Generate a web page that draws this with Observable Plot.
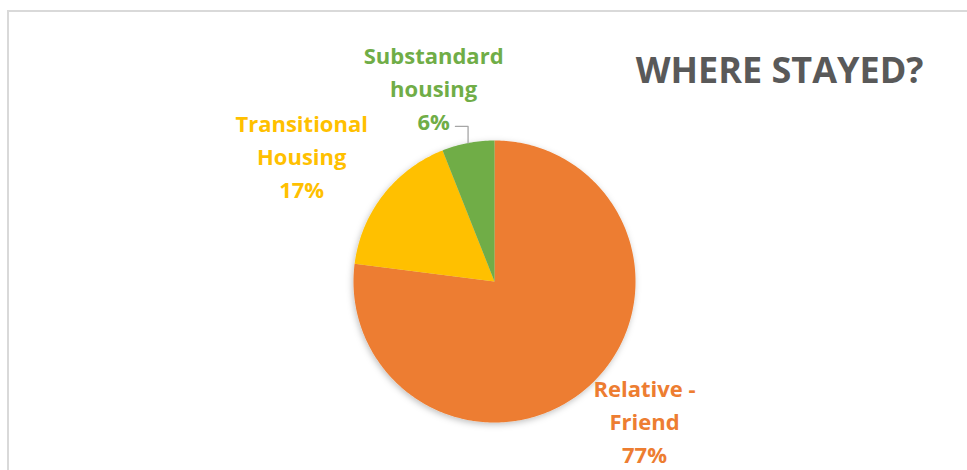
<!DOCTYPE html>
<html>
<head>
<meta charset="utf-8">
<script src="https://cdn.jsdelivr.net/npm/d3@7"></script>
<script src="https://cdn.jsdelivr.net/npm/@observablehq/plot@0.6"></script>
<style>
  html, body { margin: 0; padding: 0; background: #fff; }
  #wrap { position: relative; width: 967px; height: 470px; overflow: hidden; }
  #frame { position: absolute; left: 7px; top: 10px; width: 980px; height: 480px;
           border-left: 2px solid #d9d9d9; border-top: 2px solid #d9d9d9; box-sizing: border-box; }
  #chart { position: absolute; left: 0; top: 0; }
</style>
</head>
<body>
<div id="wrap"><div id="frame"></div><div id="chart"></div></div>
<script>
const title = "WHERE STAYED?";
const categories = ["Relative - Friend", "Transitional Housing", "Substandard housing"];
const labelLines = ["Relative -\nFriend", "Transitional\nHousing", "Substandard\nhousing"];
const values = [77, 17, 6];
const colors = ["#ED7D31", "#FFC000", "#70AD47"];

// layout for labels (angle in degrees clockwise from top, distance in radii)
const labelPlace = [[132.6, 1.445], [303.4, 1.638], [342.7, 1.452]];

const arcs = d3.pie().sort(null).value(d => d)(values);
const slices = [];
arcs.forEach((a, i) => {
  slices.push({cat: categories[i], x: 0, y: 0});
  const n = Math.max(8, Math.ceil((a.endAngle - a.startAngle) * 60));
  for (let k = 0; k <= n; k++) {
    const t = a.startAngle + (a.endAngle - a.startAngle) * k / n;
    slices.push({cat: categories[i], x: Math.sin(t), y: Math.cos(t)});
  }
  slices.push({cat: categories[i], x: 0, y: 0});
});

const labels = arcs.map((a, i) => {
  const ang = labelPlace[i][0] * Math.PI / 180, r = labelPlace[i][1];
  return {cat: categories[i], text: labelLines[i] + "\n" + values[i] + "%", x: r * Math.sin(ang), y: r * Math.cos(ang)};
});

// leader line for the small slice
const g = arcs[2];
const mid = (g.startAngle + g.endAngle) / 2;
const ex = Math.sin(mid), ey = Math.cos(mid);
const leader = [{x: ex, y: ey}, {x: ex, y: 1.1}, {x: -0.277, y: 1.1}];

const plot = Plot.plot({
  width: 967,
  height: 470,
  margin: 0,
  x: {domain: [-1, 1], range: [353, 635], axis: null},
  y: {domain: [-1, 1], range: [422, 140], axis: null},
  color: {domain: categories, range: colors},
  style: {fontFamily: "'Open Sans', sans-serif", background: "transparent"},
  marks: [
    Plot.line(slices, {x: "x", y: "y", z: "cat", fill: "cat", stroke: "none", curve: "linear-closed"}),
    Plot.line(leader, {x: "x", y: "y", stroke: "#a6a6a6", strokeWidth: 1.3}),
    Plot.text(labels, {x: "x", y: "y", text: "text", fill: "cat", fontSize: 22, fontWeight: "bold",
      lineHeight: 1.5, textAnchor: "middle", lineAnchor: "middle"}),
    Plot.text([title], {frameAnchor: "top-right", text: d => d, dx: -44, dy: 71, fill: "#595959",
      fontSize: 36, fontWeight: "bold", textAnchor: "end", lineAnchor: "middle"})
  ]
});

// subtle drop shadow on the pie
const svg = d3.select(plot);
const defs = svg.insert("defs", ":first-child");
const f = defs.append("filter").attr("id", "pieShadow").attr("x", "-20%").attr("y", "-20%").attr("width", "140%").attr("height", "140%");
f.append("feDropShadow").attr("dx", -1).attr("dy", 2).attr("stdDeviation", 3).attr("flood-color", "#000").attr("flood-opacity", 0.25);
svg.select("g[aria-label='line']").attr("filter", "url(#pieShadow)");

document.getElementById("chart").appendChild(plot);
</script>
</body>
</html>
